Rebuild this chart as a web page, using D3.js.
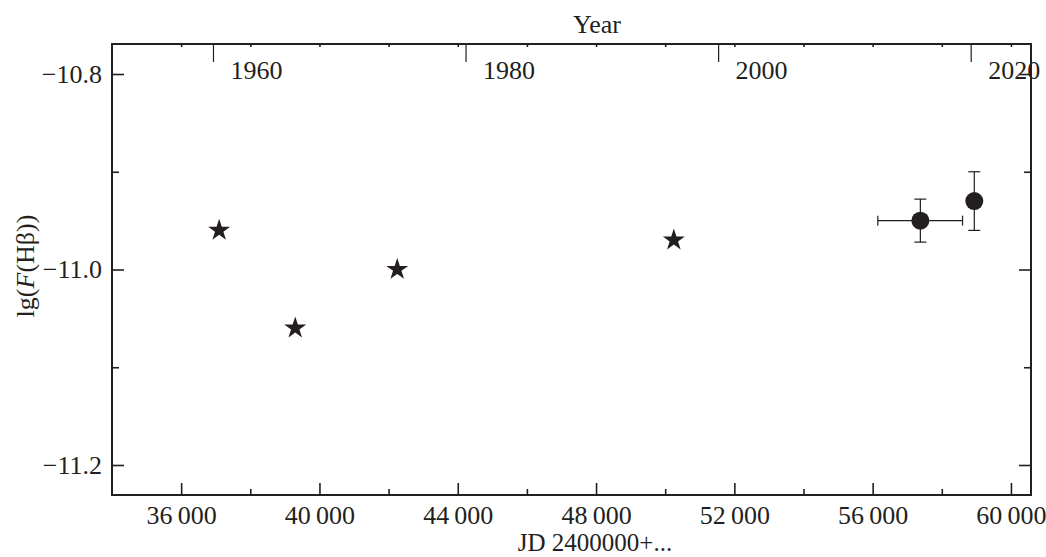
<!DOCTYPE html>
<html>
<head>
<meta charset="utf-8">
<script src="https://cdn.jsdelivr.net/npm/d3@7"></script>
<style>
  html, body { margin: 0; padding: 0; background: #fff; }
  svg { display: block; }
  text { font-family: "Liberation Serif", "DejaVu Serif", serif; fill: #231f20; }
</style>
</head>
<body>
<svg id="chart" width="1046" height="557"></svg>
<script>
// Photographic (historical) Hβ flux estimates: Julian date offset and lg F
const starJD = [37100, 39300, 42250, 50250];
const starFlux = [-10.96, -11.06, -11.00, -10.97];

// Spectroscopic measurements with uncertainties
const obsJD = [57380, 58940];
const obsFlux = [-10.95, -10.93];
const obsJDLow = [56150, 58940];
const obsJDHigh = [58600, 58940];
const obsFluxErr = [0.022, 0.03];

// Tick values
const jdMajorTicks = [36000, 40000, 44000, 48000, 52000, 56000, 60000];
const jdMinorTicks = [38000, 42000, 46000, 50000, 54000, 58000];
const fluxMajorTicks = [-10.8, -11.0, -11.2];
const fluxMinorTicks = [-10.9, -11.1];
const yearTicks = [1960, 1980, 2000, 2020];

const ink = "#231f20";
const svg = d3.select("#chart");
const margin = { left: 112, right: 15, top: 44, bottom: 62 };
const W = 1046, H = 557;
const x0 = margin.left, x1 = W - margin.right;
const y0 = margin.top, y1 = H - margin.bottom;

const x = d3.scaleLinear().domain([34000, 60580]).range([x0, x1]);
const y = d3.scaleLinear().domain([-11.2307, -10.7693]).range([y1, y0]);

// Julian date (minus 2400000) at the start of a calendar year
const yearToJD = yr => 51545 + (yr - 2000) * 365.25;

const fontSize = 26;
const jdFormat = d => { const s = String(d); return s.slice(0, -3) + "\u2009" + s.slice(-3); };
const fluxFormat = d3.format(".1f");

function styleAxis(g) {
  g.select(".domain").remove();
  g.selectAll("line").attr("stroke", ink).attr("stroke-width", 1.6);
  g.selectAll("text").attr("font-size", fontSize).attr("fill", ink)
    .style("font-family", '"Liberation Serif", serif');
}

// Bottom axis: inward ticks
svg.append("g").attr("transform", `translate(0,${y1})`)
  .call(d3.axisBottom(x).tickValues(jdMajorTicks).tickSize(-12).tickPadding(11).tickFormat(jdFormat))
  .call(styleAxis);
svg.append("g").attr("transform", `translate(0,${y1})`)
  .call(d3.axisBottom(x).tickValues(jdMinorTicks).tickSize(-6).tickFormat(""))
  .call(styleAxis);

// Top axis: small JD ticks
svg.append("g").attr("transform", `translate(0,${y0})`)
  .call(d3.axisTop(x).tickValues(jdMajorTicks.concat(jdMinorTicks)).tickSize(-3).tickFormat(""))
  .call(styleAxis);

// Top axis: calendar years
const yearAxis = svg.append("g").attr("transform", `translate(0,${y0})`);
yearAxis.selectAll("line").data(yearTicks).join("line")
  .attr("x1", d => x(yearToJD(d))).attr("x2", d => x(yearToJD(d)))
  .attr("y1", 0).attr("y2", 18)
  .attr("stroke", ink).attr("stroke-width", 1.2);
yearAxis.selectAll("text").data(yearTicks).join("text")
  .attr("x", d => x(yearToJD(d)) + 17).attr("y", 35)
  .attr("font-size", fontSize)
  .text(d => d);

// Left axis: inward ticks
svg.append("g").attr("transform", `translate(${x0},0)`)
  .call(d3.axisLeft(y).tickValues(fluxMajorTicks).tickSize(-12).tickPadding(10).tickFormat(fluxFormat))
  .call(styleAxis);
svg.append("g").attr("transform", `translate(${x0},0)`)
  .call(d3.axisLeft(y).tickValues(fluxMinorTicks).tickSize(-7).tickFormat(""))
  .call(styleAxis);

// Right axis: inward ticks
svg.append("g").attr("transform", `translate(${x1},0)`)
  .call(d3.axisRight(y).tickValues(fluxMajorTicks).tickSize(-12).tickFormat(""))
  .call(styleAxis);
svg.append("g").attr("transform", `translate(${x1},0)`)
  .call(d3.axisRight(y).tickValues(fluxMinorTicks).tickSize(-7).tickFormat(""))
  .call(styleAxis);

// Frame
svg.append("rect")
  .attr("x", x0).attr("y", y0).attr("width", x1 - x0).attr("height", y1 - y0)
  .attr("fill", "none").attr("stroke", ink).attr("stroke-width", 2);

// Axis titles
svg.append("text").attr("x", 597).attr("y", 33).attr("text-anchor", "middle")
  .attr("font-size", fontSize).text("Year");
svg.append("text").attr("x", 595).attr("y", 551).attr("text-anchor", "middle")
  .attr("font-size", fontSize - 1).text("JD 2400000+...");
const yTitle = svg.append("text")
  .attr("transform", `translate(34,266) rotate(-90)`)
  .attr("text-anchor", "middle").attr("font-size", fontSize);
yTitle.append("tspan").text("lg(");
yTitle.append("tspan").attr("font-style", "italic").text("F");
yTitle.append("tspan").text("(Hβ))");

// Star markers
const star = d3.symbol().type(d3.symbolStar).size(150);
svg.append("g").selectAll("path").data(starJD).join("path")
  .attr("transform", (d, i) => `translate(${x(d)},${y(starFlux[i])})`)
  .attr("d", star)
  .attr("fill", ink);

// Error bars
const eb = svg.append("g").attr("stroke", ink).attr("stroke-width", 1.2);
obsJD.forEach((jd, i) => {
  const cx = x(jd), cy = y(obsFlux[i]);
  const yt = y(obsFlux[i] + obsFluxErr[i]), yb = y(obsFlux[i] - obsFluxErr[i]);
  eb.append("line").attr("x1", cx).attr("x2", cx).attr("y1", yt).attr("y2", yb);
  eb.append("line").attr("x1", cx - 6).attr("x2", cx + 6).attr("y1", yt).attr("y2", yt);
  eb.append("line").attr("x1", cx - 6).attr("x2", cx + 6).attr("y1", yb).attr("y2", yb);
  const xl = x(obsJDLow[i]), xr = x(obsJDHigh[i]);
  if (xr - xl > 1) {
    eb.append("line").attr("x1", xl).attr("x2", xr).attr("y1", cy).attr("y2", cy);
    eb.append("line").attr("x1", xl).attr("x2", xl).attr("y1", cy - 5).attr("y2", cy + 5);
    eb.append("line").attr("x1", xr).attr("x2", xr).attr("y1", cy - 5).attr("y2", cy + 5);
  }
});

// Circle markers
svg.append("g").selectAll("circle").data(obsJD).join("circle")
  .attr("cx", d => x(d)).attr("cy", (d, i) => y(obsFlux[i]))
  .attr("r", 9).attr("fill", ink);
</script>
</body>
</html>
